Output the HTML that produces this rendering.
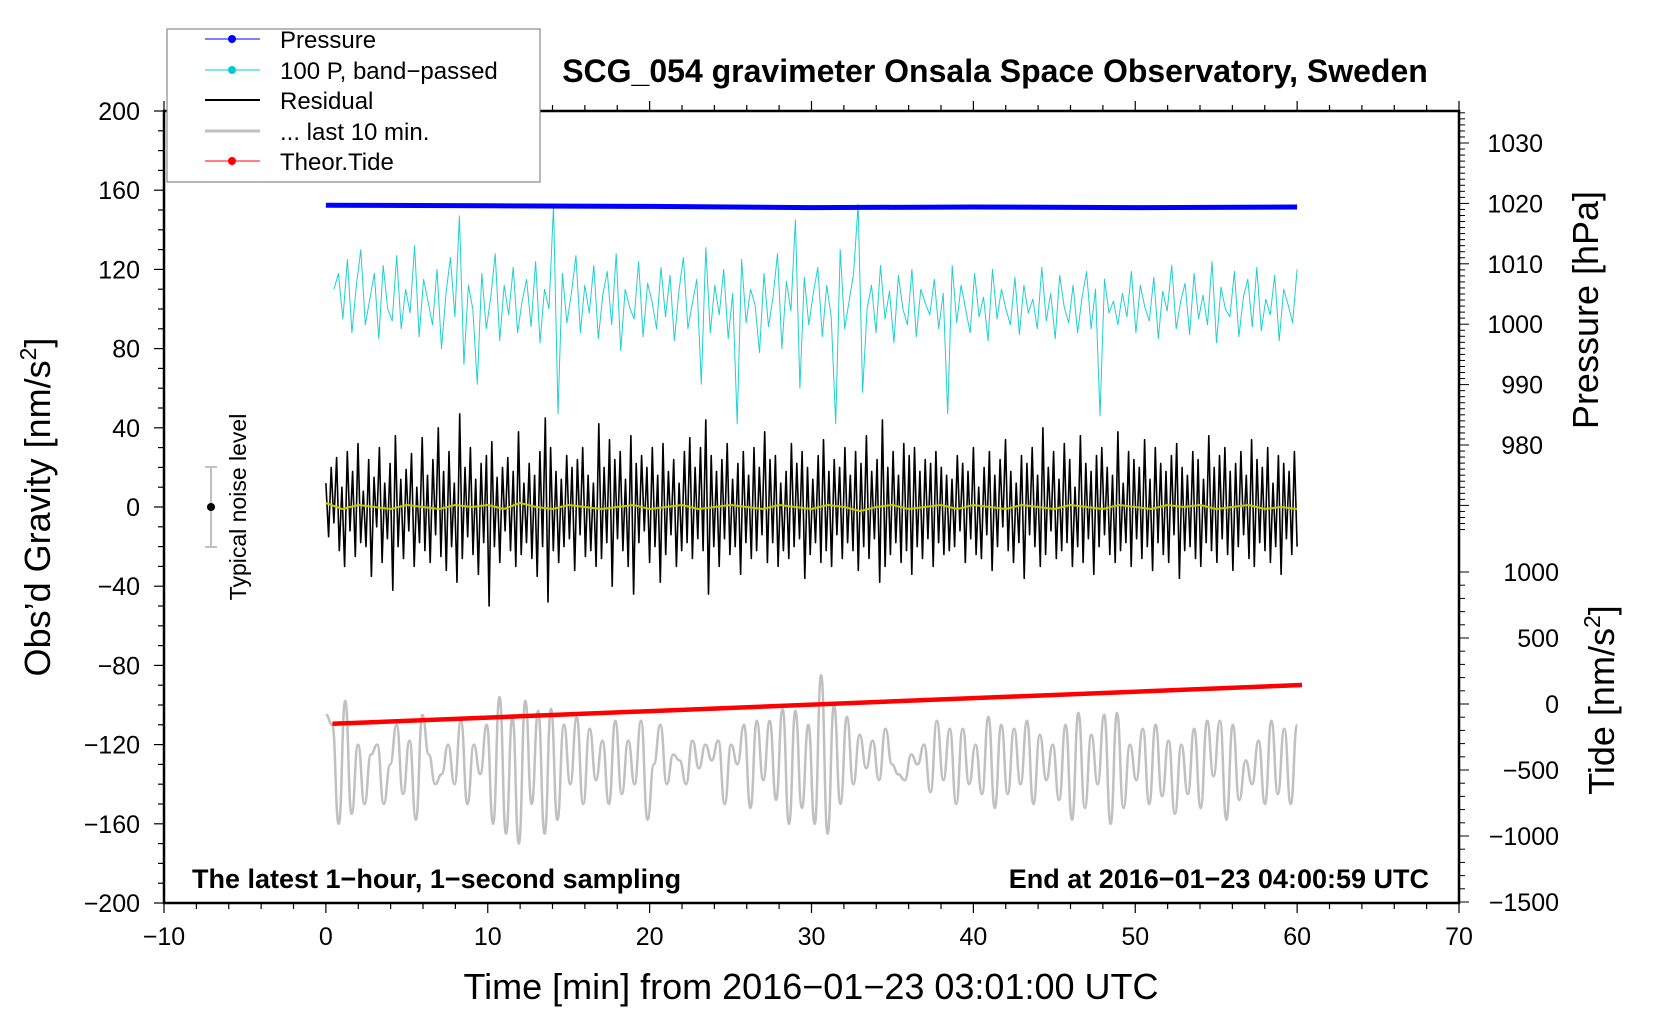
<!DOCTYPE html>
<html><head><meta charset="utf-8">
<style>
html,body{margin:0;padding:0;background:#fff;}
svg{display:block;font-family:"Liberation Sans",sans-serif;}
</style></head>
<body>
<svg id="chart" width="1660" height="1020" viewBox="0 0 1660 1020" xmlns="http://www.w3.org/2000/svg">
<rect x="0" y="0" width="1660" height="1020" fill="#fff"/>
<g id="series"></g>
<g id="axes"></g>
<text x="995" y="82" font-size="32" font-weight="bold" text-anchor="middle">SCG_054 gravimeter Onsala Space Observatory, Sweden</text>
<text transform="translate(50,507) rotate(-90)" font-size="36" text-anchor="middle">Obs’d Gravity [nm/s<tspan font-size="23" dy="-14">2</tspan><tspan dy="14">]</tspan></text>
<text transform="translate(1598,310) rotate(-90)" font-size="36" text-anchor="middle">Pressure [hPa]</text>
<text transform="translate(1614,700) rotate(-90)" font-size="36" text-anchor="middle">Tide [nm/s<tspan font-size="23" dy="-14">2</tspan><tspan dy="14">]</tspan></text>
<text x="811" y="999" font-size="36" text-anchor="middle">Time [min] from 2016−01−23 03:01:00 UTC</text>
<text x="192" y="888" font-size="27" font-weight="bold">The latest 1−hour, 1−second sampling</text>
<text x="1429" y="888" font-size="27" font-weight="bold" text-anchor="end">End at 2016−01−23 04:00:59 UTC</text>
<g>
<line x1="211" y1="467" x2="211" y2="547" stroke="#c0c0c0" stroke-width="2"/>
<line x1="205" y1="467" x2="217" y2="467" stroke="#c0c0c0" stroke-width="2"/>
<line x1="205" y1="547" x2="217" y2="547" stroke="#c0c0c0" stroke-width="2"/>
<circle cx="211" cy="507" r="4" fill="#000"/>
<text transform="translate(246,507) rotate(-90)" font-size="23" text-anchor="middle">Typical noise level</text>
</g>
<g>
<rect x="167" y="29" width="373" height="153" fill="#fff" stroke="#888" stroke-width="1.2"/>
<g><line x1="205" y1="39" x2="260" y2="39" stroke="#0000ff" stroke-width="1"/><circle cx="232" cy="39" r="4" fill="#0000ff"/><text x="280" y="48" font-size="24">Pressure</text></g>
<g><line x1="205" y1="70" x2="260" y2="70" stroke="#00cccc" stroke-width="1"/><circle cx="232" cy="70" r="4" fill="#00cccc"/><text x="280" y="79" font-size="24">100 P, band−passed</text></g>
<g><line x1="205" y1="100" x2="260" y2="100" stroke="#000" stroke-width="2"/><text x="280" y="109" font-size="24">Residual</text></g>
<g><line x1="205" y1="131" x2="260" y2="131" stroke="#c0c0c0" stroke-width="3"/><text x="280" y="140" font-size="24">... last 10 min.</text></g>
<g><line x1="205" y1="161" x2="260" y2="161" stroke="#ff0000" stroke-width="1"/><circle cx="232" cy="161" r="4" fill="#ff0000"/><text x="280" y="170" font-size="24">Theor.Tide</text></g>
</g>
</svg>
<script>
const xTicks=[-10,0,10,20,30,40,50,60,70];
const yTicks=[200,160,120,80,40,0,-40,-80,-120,-160,-200];
const pTicks=[1030,1020,1010,1000,990,980];
const tideTicks=[1000,500,0,-500,-1000,-1500];
const pressureT=[0,10,20,30,40,50,60];
const pressureV=[1019.7,1019.6,1019.5,1019.3,1019.4,1019.3,1019.4];
const tideT=[0.4,60.3];
const tideV=[-150,144];
const cyanV=[110,118,95,125,88,112,130,92,105,118,85,122,100,94,127,90,110,98,132,86,115,104,92,120,80,108,126,96,147,72,112,100,62,118,90,106,128,84,112,97,121,88,104,115,91,124,83,110,100,152,47,118,93,108,127,88,112,98,122,85,107,119,92,128,79,110,101,95,124,86,113,104,90,121,96,117,84,109,126,90,103,115,62,131,88,112,97,120,85,108,42,125,93,110,102,78,118,91,106,128,80,114,99,145,60,116,92,108,121,86,112,96,42,130,90,104,118,153,58,100,112,88,122,95,109,83,117,100,92,120,86,110,103,97,115,90,108,47,122,93,112,100,88,118,96,106,84,120,95,110,100,92,116,87,112,98,105,90,121,94,108,85,117,101,93,112,88,106,119,90,110,46,115,98,104,92,
108,96,119,88,112,101,94,116,85,109,99,122,90,104,113,87,118,95,107,92,124,83,111,100,96,119,86,106,115,91,121,89,105,97,117,84,110,102,93,120];
const resV=[12,-15,20,-8,25,-22,10,-30,28,-12,18,-25,32,-18,8,-20,24,-35,15,-10,30,-28,12,-16,22,-42,36,-20,14,-26,19,-12,27,-30,10,-18,35,-22,16,-28,24,-14,40,-25,18,-32,28,-20,12,-38,47,-26,20,-15,30,-24,14,-34,22,-18,26,-50,33,-20,15,-28,20,-12,25,-22,18,-30,38,-24,12,-18,22,-26,16,-35,28,-20,45,-48,30,-22,18,-28,14,-20,26,-16,20,-32,24,-14,30,-25,16,-22,12,-30,42,-26,20,-18,34,-40,24,-16,28,-22,14,-30,36,-44,22,-18,26,-12,20,-28,30,-20,16,-38,32,-24,18,-14,24,-30,12,-22,28,-18,35,-26,20,-16,30,-22,44,-44,26,-20,18,-30,24,-16,32,-24,14,-20,22,-34,28,-18,16,-26,30,-22,20,-14,38,-28,24,-18,26,-30,12,-22,18,-26,32,-20,22,-16,28,-36,20,-24,14,-18,26,-28,34,-22,18,-30,24,-14,20,-26,30,-18,16,-22,28,-32,22,-20,36,-26,18,-16,24,-38,44,-30,20,-24,28,-18,16,-28,32,-22,26,-34,30,-20,18,-26,24,-16,22,-30,28,-18,20,-24,16,-22,
14,-20,26,-12,22,-28,18,-16,30,-24,10,-26,20,-14,28,-32,16,-20,24,-10,34,-22,18,-28,12,-18,26,-36,22,-14,30,-20,16,-30,40,-24,20,-12,28,-26,14,-22,32,-18,24,-30,10,-20,36,-28,22,-16,18,-34,26,-20,30,-14,20,-24,16,-28,38,-22,12,-18,28,-30,24,-16,20,-26,34,-20,14,-32,30,-18,22,-24,18,-28,26,-14,32,-36,20,-22,16,-20,28,-26,24,-30,14,-18,36,-22,20,-28,26,-16,30,-24,18,-32,22,-20,28,-14,16,-26,34,-30,24,-18,20,-22,30,-28,12,-20,26,-34,22,-16,18,-24,28,-20];
const yelV=[2,-1,1,0,-1,1,0,-1,1,0,1,-1,2,0,-1,1,0,-1,0,1,-1,0,1,-1,0,1,0,-1,1,0,-1,1,0,-2,0,1,-1,0,1,-1,1,0,-1,1,0,-1,1,0,-1,1,0,-1,1,0,1,-1,0,1,-1,0,-1];
const grayV=[-105,-110,-160,-98,-155,-120,-150,-125,-120,-150,-130,-110,-145,-118,-158,-105,-125,-140,-135,-120,-140,-108,-150,-120,-135,-110,-160,-96,-165,-106,-170,-98,-150,-103,-165,-102,-158,-110,-140,-106,-150,-112,-138,-118,-150,-108,-145,-118,-140,-108,-158,-130,-110,-140,-125,-128,-140,-118,-132,-120,-128,-118,-150,-120,-130,-110,-152,-108,-138,-108,-148,-102,-160,-103,-152,-110,-160,-85,-165,-100,-150,-106,-140,-115,-132,-118,-138,-112,-130,-135,-138,-125,-130,-120,-144,-108,-138,-112,-150,-112,-140,-120,-145,-106,-152,-110,-145,-112,-140,-108,-150,-115,-138,-120,-148,-110,-158,-104,-152,-115,-140,-105,-160,-104,-152,-120,-138,-112,-150,-110,-146,-118,-155,-120,-145,-112,-152,-108,-136,-108,-158,-110,-148,-128,-140,-118,-150,-108,-145,-112,-150,-110];
const NS='http://www.w3.org/2000/svg';
const L=164,R=1459,T=111,B=903;
function xs(t){return L+(t+10)*(R-L)/80;}
function ys(v){return T+(200-v)*(B-T)/400;}
function ps(p){return 143+(1030-p)*6.04;}
function ts(v){return 704-v*0.132;}
const series=document.getElementById('series');
const axes=document.getElementById('axes');
function mk(tag,attrs,parent){const e=document.createElementNS(NS,tag);for(const k in attrs)e.setAttribute(k,attrs[k]);parent.appendChild(e);return e;}
function pathD(vals,t0,t1,ymap){let d='';const n=vals.length;for(let i=0;i<n;i++){const t=t0+(t1-t0)*i/(n-1);d+=(i?'L':'M')+xs(t).toFixed(1)+','+ymap(vals[i]).toFixed(1);}return d;}
function line(vals,t0,t1,ymap,color,w){return mk('path',{d:pathD(vals,t0,t1,ymap),fill:'none',stroke:color,'stroke-width':w,'stroke-linejoin':'round'},series);}
function smooth(vals,t0,t1,ymap,color,w){const n=vals.length;const P=vals.map((v,i)=>[xs(t0+(t1-t0)*i/(n-1)),ymap(v)]);let d='M'+P[0][0].toFixed(1)+','+P[0][1].toFixed(1);for(let i=1;i<n;i++){const mx=(P[i-1][0]+P[i][0])/2;d+='C'+mx.toFixed(1)+','+P[i-1][1].toFixed(1)+' '+mx.toFixed(1)+','+P[i][1].toFixed(1)+' '+P[i][0].toFixed(1)+','+P[i][1].toFixed(1);}return mk('path',{d:d,fill:'none',stroke:color,'stroke-width':w},series);}
function lineXY(tsA,vs,ymap,color,w){let d='';for(let i=0;i<tsA.length;i++){d+=(i?'L':'M')+xs(tsA[i]).toFixed(1)+','+ymap(vs[i]).toFixed(1);}return mk('path',{d:d,fill:'none',stroke:color,'stroke-width':w},series);}
let e;
e=smooth(grayV,0,60,ys,'#c0c0c0',2.5);


e=lineXY(tideT,tideV,ts,'#ff0000',4.5);


e=line(cyanV,0.5,60,ys,'#20d0d0',1);


e=line(resV,0,60,ys,'#000',1.6);


e=line(yelV,0,60,ys,'#c8c800',2);


e=lineXY(pressureT,pressureV,ps,'#0000ff',5);


e=mk('rect',{x:L,y:T,width:R-L,height:B-T,fill:'none',stroke:'#000','stroke-width':2.5},axes);


for(let t=-10;t<=70;t+=2){const maj=(t%10===0);mk('line',{x1:xs(t),y1:B,x2:xs(t),y2:B+(maj?10:6),stroke:'#000','stroke-width':1.2},axes);mk('line',{x1:xs(t),y1:T,x2:xs(t),y2:T+(maj?-10:-6),stroke:'#000','stroke-width':1.2},axes);}
xTicks.forEach(t=>{const tx=mk('text',{x:xs(t),y:945,'font-size':25,'text-anchor':'middle'},axes);tx.textContent=(t<0?'−'+(-t):t);

});
for(let v=-200;v<=200;v+=10){const maj=(v%40===0);mk('line',{x1:L,y1:ys(v),x2:L-(maj?10:6),y2:ys(v),stroke:'#000','stroke-width':1.2},axes);}
yTicks.forEach(v=>{const tx=mk('text',{x:140,y:ys(v)+9,'font-size':25,'text-anchor':'end'},axes);tx.textContent=(v<0?'−'+(-v):v);

});
for(let p=966;p<=1035;p+=1){const maj=(p%10===0);const y=ps(p);if(y<T||y>B)continue;mk('line',{x1:R,y1:y,x2:R+(maj?10:6),y2:y,stroke:'#000','stroke-width':1},axes);}
pTicks.forEach(p=>{const tx=mk('text',{x:1543,y:ps(p)+9,'font-size':25,'text-anchor':'end'},axes);tx.textContent=p;

});
for(let v=-1500;v<=1000;v+=100){const maj=(v%500===0);mk('line',{x1:R,y1:ts(v),x2:R+(maj?10:6),y2:ts(v),stroke:'#000','stroke-width':1},axes);}
tideTicks.forEach(v=>{const tx=mk('text',{x:1559,y:ts(v)+9,'font-size':25,'text-anchor':'end'},axes);tx.textContent=(v<0?'−'+(-v):v);

});
</script>
</body></html>
